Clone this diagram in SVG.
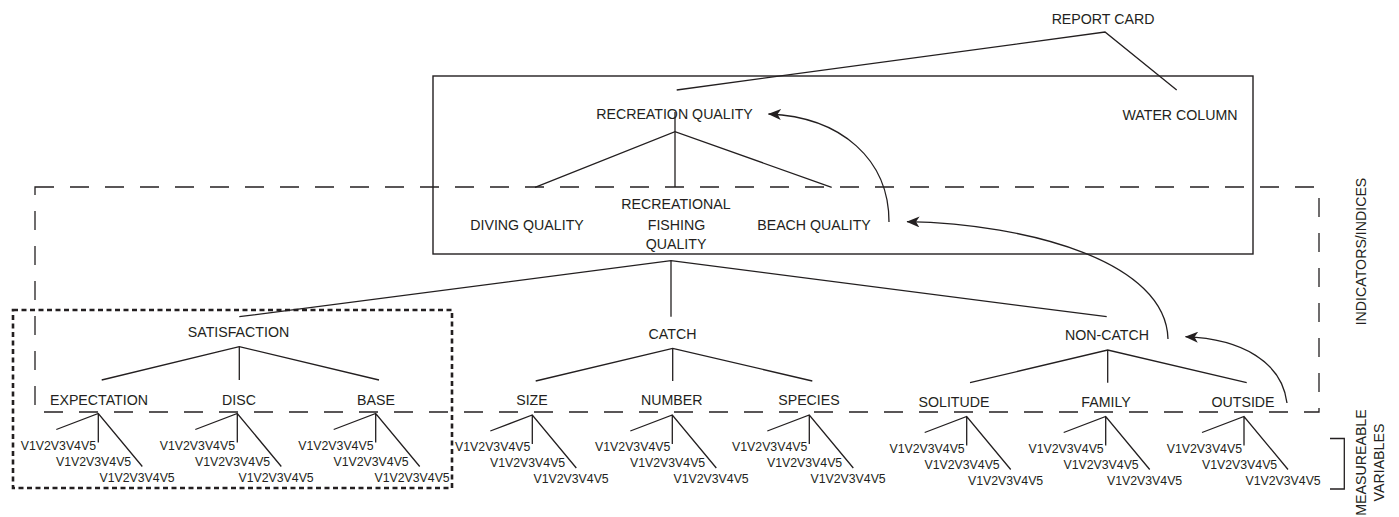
<svg xmlns="http://www.w3.org/2000/svg" width="1399" height="517" viewBox="0 0 1399 517">
<defs>
<style>
.t{font-family:"Liberation Sans",Arial,sans-serif;font-size:14.2px;fill:#231f20;text-anchor:middle}
.v{font-family:"Liberation Sans",Arial,sans-serif;font-size:12.3px;fill:#231f20}
.e{text-anchor:end}
.ln{stroke:#231f20;stroke-width:1.3;fill:none}
.fr{stroke:#231f20;stroke-width:1.4;fill:none}
.da{stroke:#231f20;stroke-width:1.3;fill:none;stroke-dasharray:19 16}
.do{stroke:#231f20;stroke-width:2.6;fill:none;stroke-dasharray:5 3.5}
</style>
<marker id="ah" viewBox="0 0 13 11" refX="12.5" refY="5.5" markerWidth="13" markerHeight="11" markerUnits="userSpaceOnUse" orient="auto">
<path d="M0,0 L13,5.5 L0,11 L3.5,5.5 Z" fill="#231f20"/>
</marker>
</defs>
<rect width="1399" height="517" fill="#fff"/>

<g id="frames">
<rect x="433" y="76" width="820" height="178" class="fr"/>
<rect x="35" y="187" width="1284" height="225" class="da"/>
<rect x="13" y="310" width="439" height="178" class="do"/>
<path d="M1330,438.5 H1344.3 V489 H1330" class="ln"/>
</g>

<g id="connectors">
<polyline points="676.7,90 1105,32 1176.7,90" class="ln"/>
<line x1="675" y1="112" x2="675" y2="187" class="ln"/>
<polyline points="535,187.3 675,131.7 831.7,187.3" class="ln"/>
<polyline points="239.3,316.7 671,260.7 1106.7,316.7" class="ln"/>
<line x1="671" y1="260.7" x2="671" y2="316.7" class="ln"/>
<polyline points="101.7,380 239.3,346.7 379,380" class="ln"/>
<line x1="239.3" y1="346.7" x2="239.3" y2="380" class="ln"/>
<polyline points="535.7,381 672.7,348.3 812.3,381" class="ln"/>
<line x1="672.7" y1="348.3" x2="672.7" y2="381" class="ln"/>
<polyline points="970,382.7 1107.7,350 1246.7,382.7" class="ln"/>
<line x1="1107.7" y1="350" x2="1107.7" y2="382.7" class="ln"/>

<path d="M56.3,429.5 L98.3,413.5 L142.3,466.5 M98.3,413.5 V442.5" class="ln"/>
<path d="M195.3,429.5 L237.3,413.5 L281.3,466.5 M237.3,413.5 V442.5" class="ln"/>
<path d="M333.7,429.5 L375.7,413.5 L419.7,466.5 M375.7,413.5 V442.5" class="ln"/>
<path d="M490.3,431 L532.3,415 L576.3,468 M532.3,415 V444" class="ln"/>
<path d="M630.3,431 L672.3,415 L716.3,468 M672.3,415 V444" class="ln"/>
<path d="M767.3,431 L809.3,415 L853.3,468 M809.3,415 V444" class="ln"/>
<path d="M924.7,432.5 L966.7,416.5 L1010.7,469.5 M966.7,416.5 V445.5" class="ln"/>
<path d="M1063.7,432.5 L1105.7,416.5 L1149.7,469.5 M1105.7,416.5 V445.5" class="ln"/>
<path d="M1202,432.5 L1244,416.5 L1288,469.5 M1244,416.5 V445.5" class="ln"/>

<path d="M889,222 C889,160 842,117 768.5,114" class="ln" marker-end="url(#ah)"/>
<path d="M1168,339 C1166,262 1030,224 907,221.7" class="ln" marker-end="url(#ah)"/>
<path d="M1287,403 C1282,362 1242,339 1185.5,336.7" class="ln" marker-end="url(#ah)"/>
</g>

<g id="report-card"><text class="t" x="1103" y="24">REPORT CARD</text></g>
<g id="recreation-quality"><text class="t" x="674.5" y="119">RECREATION QUALITY</text></g>
<g id="water-column"><text class="t" x="1180" y="120">WATER COLUMN</text></g>
<g id="diving-quality"><text class="t" x="527" y="230">DIVING QUALITY</text></g>
<g id="recreational-fishing-quality">
<text class="t" x="676" y="208.5">RECREATIONAL</text>
<text class="t" x="676.5" y="229.5">FISHING</text>
<text class="t" x="676" y="248.5">QUALITY</text>
</g>
<g id="beach-quality"><text class="t" x="814" y="230">BEACH QUALITY</text></g>
<g id="satisfaction"><text class="t" x="238.5" y="337">SATISFACTION</text></g>
<g id="catch"><text class="t" x="672.5" y="338.5">CATCH</text></g>
<g id="non-catch"><text class="t" x="1107" y="340">NON-CATCH</text></g>
<g id="expectation"><text class="t" x="99" y="404.5">EXPECTATION</text></g>
<g id="disc"><text class="t" x="239" y="404.5">DISC</text></g>
<g id="base"><text class="t" x="376" y="404.5">BASE</text></g>
<g id="size"><text class="t" x="532" y="405">SIZE</text></g>
<g id="number"><text class="t" x="671.7" y="405">NUMBER</text></g>
<g id="species"><text class="t" x="809" y="405">SPECIES</text></g>
<g id="solitude"><text class="t" x="954" y="406.5">SOLITUDE</text></g>
<g id="family"><text class="t" x="1106" y="406.5">FAMILY</text></g>
<g id="outside"><text class="t" x="1243" y="406.5">OUTSIDE</text></g>

<g id="expectation-vars">
<text class="v e" x="96" y="449.5">V1V2V3V4V5</text>
<text class="v" x="56" y="465.5">V1V2V3V4V5</text>
<text class="v" x="99.5" y="481.5">V1V2V3V4V5</text>
</g>
<g id="disc-vars">
<text class="v e" x="235" y="449.5">V1V2V3V4V5</text>
<text class="v" x="195" y="465.5">V1V2V3V4V5</text>
<text class="v" x="238.5" y="481.5">V1V2V3V4V5</text>
</g>
<g id="base-vars">
<text class="v e" x="373.5" y="449.5">V1V2V3V4V5</text>
<text class="v" x="333.5" y="465.5">V1V2V3V4V5</text>
<text class="v" x="374.5" y="481.5">V1V2V3V4V5</text>
</g>
<g id="size-vars">
<text class="v e" x="530.3" y="451">V1V2V3V4V5</text>
<text class="v" x="490" y="467">V1V2V3V4V5</text>
<text class="v" x="533.5" y="483">V1V2V3V4V5</text>
</g>
<g id="number-vars">
<text class="v e" x="670.3" y="451">V1V2V3V4V5</text>
<text class="v" x="630" y="467">V1V2V3V4V5</text>
<text class="v" x="673.5" y="483">V1V2V3V4V5</text>
</g>
<g id="species-vars">
<text class="v e" x="807.3" y="451">V1V2V3V4V5</text>
<text class="v" x="767" y="467">V1V2V3V4V5</text>
<text class="v" x="810.5" y="483">V1V2V3V4V5</text>
</g>
<g id="solitude-vars">
<text class="v e" x="964.7" y="452.5">V1V2V3V4V5</text>
<text class="v" x="924.5" y="468.5">V1V2V3V4V5</text>
<text class="v" x="968" y="484.5">V1V2V3V4V5</text>
</g>
<g id="family-vars">
<text class="v e" x="1103.7" y="452.5">V1V2V3V4V5</text>
<text class="v" x="1063.5" y="468.5">V1V2V3V4V5</text>
<text class="v" x="1107" y="484.5">V1V2V3V4V5</text>
</g>
<g id="outside-vars">
<text class="v e" x="1242" y="452.5">V1V2V3V4V5</text>
<text class="v" x="1202" y="468.5">V1V2V3V4V5</text>
<text class="v" x="1245.5" y="484.5">V1V2V3V4V5</text>
</g>

<g id="indicators-label"><text class="t" transform="translate(1366,251.5) rotate(-90)">INDICATORS/INDICES</text></g>
<g id="measureable-label">
<text class="t" transform="translate(1366,462.5) rotate(-90)">MEASUREABLE</text>
<text class="t" transform="translate(1384,462.5) rotate(-90)">VARIABLES</text>
</g>
</svg>
